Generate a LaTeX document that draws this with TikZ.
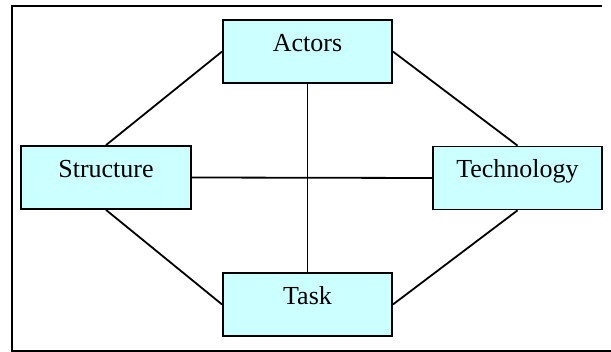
\documentclass[tikz,border=0pt]{standalone}
\usepackage{fontspec}
\setmainfont{Liberation Serif}
\definecolor{topicfill}{RGB}{204,255,255}
\begin{document}
\begin{tikzpicture}[x=1pt,y=-1pt,
  topic/.style={draw=black, fill=topicfill, line width=1.8pt,
    minimum width=169pt, minimum height=63pt, inner sep=0pt,
    text height=12pt, text depth=12pt,
    font=\fontsize{26}{30}\selectfont},
  link/.style={line width=1.8pt}]
  \useasboundingbox (0,0) rectangle (611,352);
  % surrounding frame (open on the right)
  \draw[line width=2.4pt] (602,6) -- (12,6) -- (12,351) -- (611,351);
  % the four topics
  \node[topic] (actors) at (307.5,51.5) {Actors};
  \node[topic, minimum width=170pt] (structure) at (106,177.5) {Structure};
  \node[topic] (technology) at (517.5,178) {Technology};
  \node[topic] (task) at (307.5,304.5) {Task};
  % connections
  \draw[link] (actors.west) -- (structure.north);
  \draw[link] (actors.east) -- (technology.north);
  \draw[link] (structure.south) -- (task.west);
  \draw[link] (task.east) -- (technology.south);
  \draw[link] (actors.south) -- (task.north);
  \draw[link] (structure.east) -- (technology.west);
\end{tikzpicture}
\end{document}
